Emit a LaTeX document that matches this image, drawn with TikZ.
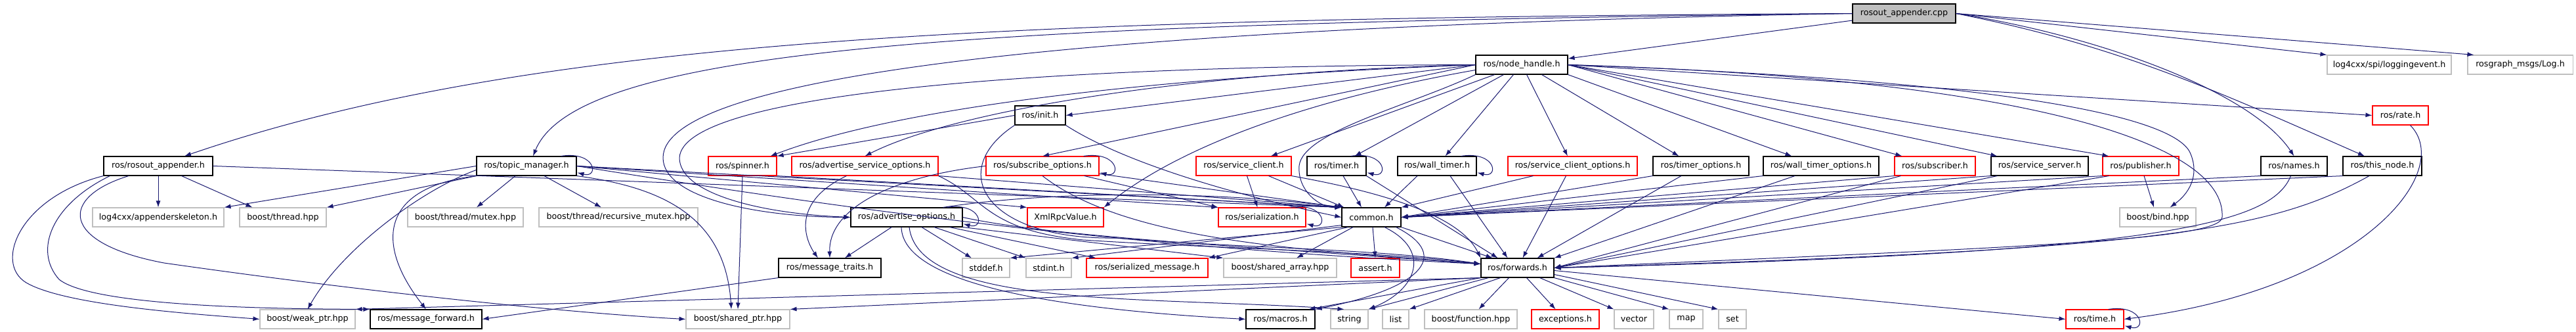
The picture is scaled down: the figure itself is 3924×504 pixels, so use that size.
\documentclass[tikz,border=0pt]{standalone}
\usepackage{fontspec}
\setmainfont{DejaVu Sans}
\usetikzlibrary{arrows.meta}
\definecolor{navyc}{HTML}{191970}
\definecolor{lgray}{HTML}{BFBFBF}
\definecolor{fillg}{HTML}{BFBFBF}
\tikzset{
 nbox/.style={draw, rectangle, inner sep=0pt, minimum height=29pt, line width=1.1pt, font=\fontsize{12.7}{15}\selectfont, text=black},
 blk/.style={nbox, draw=black},
 redb/.style={nbox, draw=red},
 gryb/.style={nbox, draw=lgray},
 dep/.style={draw=navyc, line width=1pt, -{Latex[length=10pt,width=7pt]}},
}
\newcommand{\myloop}[1]{\draw[dep] ([xshift=-24pt]#1.north east) .. controls ([xshift=30pt,yshift=8pt]#1.north east) and ([xshift=34pt,yshift=-4pt]#1.south east) .. ([xshift=1pt,yshift=5pt]#1.south east);}
\begin{document}
\begin{tikzpicture}[x=1pt,y=-1pt]
\useasboundingbox (0,0) rectangle (3924,504);
% row A
\node[blk,fill=fillg,minimum width=157pt] (cpp) at (2900.5,20.5) {rosout\_appender.cpp};
% row B
\node[blk,minimum width=140pt] (nh) at (2318,98.5) {ros/node\_handle.h};
\node[gryb,minimum width=189pt] (logev) at (3639.5,98.5) {log4cxx/spi/loggingevent.h};
\node[gryb,minimum width=160pt] (log) at (3839,98.5) {rosgraph\_msgs/Log.h};
% row C
\node[blk,minimum width=77pt] (init) at (1584.5,175.5) {ros/init.h};
\node[redb,minimum width=85pt] (rate) at (3656.5,175.5) {ros/rate.h};
% row D
\node[blk,minimum width=166pt] (roa) at (241,252.5) {ros/rosout\_appender.h};
\node[blk,minimum width=152pt] (tm) at (802,252.5) {ros/topic\_manager.h};
\node[redb,minimum width=104pt] (spin) at (1131,252.5) {ros/spinner.h};
\node[redb,minimum width=223pt] (aso) at (1317.5,252.5) {ros/advertise\_service\_options.h};
\node[redb,minimum width=172pt] (so) at (1588,252.5) {ros/subscribe\_options.h};
\node[redb,minimum width=145pt] (sc) at (1894.5,252.5) {ros/service\_client.h};
\node[blk,minimum width=90pt] (timer) at (2036,252.5) {ros/timer.h};
\node[blk,minimum width=120pt] (wt) at (2189,252.5) {ros/wall\_timer.h};
\node[redb,minimum width=197pt] (sco) at (2395.5,252.5) {ros/service\_client\_options.h};
\node[blk,minimum width=146pt] (tmo) at (2591,252.5) {ros/timer\_options.h};
\node[blk,minimum width=176pt] (wto) at (2774,252.5) {ros/wall\_timer\_options.h};
\node[redb,minimum width=123pt] (sub) at (2947.5,252.5) {ros/subscriber.h};
\node[blk,minimum width=148pt] (ss) at (3107,252.5) {ros/service\_server.h};
\node[redb,minimum width=116pt] (pub) at (3261,252.5) {ros/publisher.h};
\node[blk,minimum width=101pt] (names) at (3494.5,252.5) {ros/names.h};
\node[blk,minimum width=120pt] (tn) at (3629,252.5) {ros/this\_node.h};
% row E
\node[gryb,minimum width=200pt] (ask) at (241,330.5) {log4cxx/appenderskeleton.h};
\node[gryb,minimum width=132pt] (thr) at (431,330.5) {boost/thread.hpp};
\node[gryb,minimum width=176pt] (mtx) at (709,330.5) {boost/thread/mutex.hpp};
\node[gryb,minimum width=242pt] (rmtx) at (942,330.5) {boost/thread/recursive\_mutex.hpp};
\node[blk,minimum width=170pt] (ao) at (1381,330.5) {ros/advertise\_options.h};
\node[redb,minimum width=116pt] (xml) at (1623,330.5) {XmlRpcValue.h};
\node[redb,minimum width=133pt] (ser) at (1922.5,330.5) {ros/serialization.h};
\node[blk,minimum width=90pt] (common) at (2089,330.5) {common.h};
\node[gryb,minimum width=116pt] (bind) at (3287,330.5) {boost/bind.hpp};
% row F
\node[blk,minimum width=156pt] (mt) at (1264,407.5) {ros/message\_traits.h};
\node[gryb,minimum width=72pt] (stddef) at (1502,407.5) {stddef.h};
\node[gryb,minimum width=69pt] (stdint) at (1597.5,407.5) {stdint.h};
\node[redb,minimum width=185pt] (smsg) at (1747.5,407.5) {ros/serialized\_message.h};
\node[gryb,minimum width=172pt] (sarr) at (1950,407.5) {boost/shared\_array.hpp};
\node[redb,minimum width=74pt] (assert) at (2095,407.5) {assert.h};
\node[blk,minimum width=111pt] (fwd) at (2311.5,407.5) {ros/forwards.h};
% row G
\node[gryb,minimum width=145pt] (wptr) at (468.5,485.5) {boost/weak\_ptr.hpp};
\node[blk,minimum width=170pt] (mfwd) at (649,485.5) {ros/message\_forward.h};
\node[gryb,minimum width=158pt] (sptr) at (1124,485.5) {boost/shared\_ptr.hpp};
\node[blk,minimum width=105pt] (macros) at (1950.5,485.5) {ros/macros.h};
\node[gryb,minimum width=57pt] (string) at (2055.5,485.5) {string};
\node[gryb,minimum width=40pt] (list) at (2126,485.5) {list};
\node[gryb,minimum width=141pt] (func) at (2240.5,485.5) {boost/function.hpp};
\node[redb,minimum width=103pt] (exc) at (2384.5,485.5) {exceptions.h};
\node[gryb,minimum width=60pt] (vector) at (2489,485.5) {vector};
\node[gryb,minimum width=51pt] (map) at (2568.5,485.5) {map};
\node[gryb,minimum width=42pt] (set) at (2639,485.5) {set};
\node[redb,minimum width=88pt] (rtime) at (3191,485.5) {ros/time.h};

% ---- rosout_appender.cpp
\draw[dep] (cpp.west) .. controls (1500,28) and (800,60) .. ([xshift=40pt]roa.north);
\draw[dep] (cpp.west) .. controls (1500,36) and (880,70) .. ([xshift=10pt]tm.north);
\draw[dep] (cpp.west) .. controls (1600,42) and (1010,120) .. (1010,240) .. controls (1010,300) and (1150,330) .. (ao.west);
\draw[dep] (cpp) -- (nh);
\draw[dep] (cpp.east) -- (logev.north west);
\draw[dep] (cpp.east) -- ([xshift=10pt]log.north west);
\draw[dep] (cpp.east) .. controls (3200,55) and (3430,140) .. (names.north);
\draw[dep] (cpp.east) .. controls (3230,70) and (3380,140) .. ([xshift=-27pt]tn.north);

% ---- node_handle.h
\draw[dep] (nh.west) -- (init.east);
\draw[dep] (nh.west) .. controls (1700,120) and (1350,170) .. ([xshift=-10pt]spin.north east);
\draw[dep] (nh.west) .. controls (1800,110) and (1450,170) .. (aso.north);
\draw[dep] (nh.west) -- (so.north);
\draw[dep] (nh.west) .. controls (1600,100) and (1040,140) .. (1035,240) .. controls (1035,295) and (1160,325) .. (ao.west);
\draw[dep] ([yshift=-8pt]nh.west) .. controls (2000,150) and (1800,220) .. (xml.north east);
\draw[dep] (nh.south west) .. controls (2150,160) and (1985,200) .. (1979,252) .. controls (1976,290) and (2010,316) .. (common.north west);
\draw[dep] (nh) -- (sc);
\draw[dep] (nh) -- (timer);
\draw[dep] (nh) -- (wt);
\draw[dep] (nh) -- (sco);
\draw[dep] ([xshift=-40pt]nh.south east) -- ([xshift=40pt]tmo.north west);
\draw[dep] (nh.south east) -- ([xshift=44pt]wto.north west);
\draw[dep] (nh.east) -- ([xshift=12pt]sub.north west);
\draw[dep] (nh.east) -- ([xshift=10pt]ss.north west);
\draw[dep] (nh.east) -- ([xshift=10pt]pub.north west);
\draw[dep] (nh.east) -- (rate.west);
\draw[dep] (nh.east) .. controls (3000,120) and (3300,170) .. (3335,230) .. controls (3350,260) and (3340,290) .. ([xshift=-40pt]bind.north east);
\draw[dep] (nh.east) .. controls (3100,120) and (3390,220) .. (3385,330) .. controls (3385,365) and (3100,375) .. (fwd.east);

% ---- init.h
\draw[dep] (init.west) -- (spin.north east);
\draw[dep] (init.south east) .. controls (1700,240) and (1850,290) .. (common.west);
\draw[dep] (init.south west) .. controls (1440,260) and (1500,365) .. (1700,362) .. controls (1900,378) and (2100,378) .. ([yshift=6pt]fwd.west);

% ---- rosout_appender.h
\draw[dep] (roa) -- (ask);
\draw[dep] ([xshift=-48pt]roa.south east) -- ([xshift=20pt]thr.north west);
\draw[dep] (roa.east) -- (common.north west);
\draw[dep] (roa.south west) .. controls (30,300) and (-10,400) .. (40,430) .. controls (100,465) and (300,478) .. (wptr.west);
\draw[dep] ([xshift=10pt]roa.south west) .. controls (80,310) and (50,380) .. (90,425) .. controls (140,465) and (400,470) .. (mfwd.north west);
\draw[dep] ([xshift=-45pt]roa.south) .. controls (90,300) and (90,370) .. (250,400) .. controls (600,450) and (900,478) .. (sptr.west);

% ---- topic_manager.h
\myloop{tm}
\draw[dep] (tm.west) -- (ask.north east);
\draw[dep] (tm.south west) -- (thr.north east);
\draw[dep] ([yshift=-6pt]tm.west) .. controls (640,290) and (520,380) .. (wptr.north);
\draw[dep] (tm.south west) .. controls (580,285) and (570,370) .. (mfwd.north);
\draw[dep] ([xshift=-17pt]tm.south) -- ([xshift=17pt]mtx.north);
\draw[dep] ([xshift=27pt]tm.south) -- ([xshift=-26pt]rmtx.north);
\draw[dep] (tm.south east) .. controls (1010,285) and (1105,330) .. ([xshift=-10pt]sptr.north);
\draw[dep] (tm.east) -- (xml.north west);
\draw[dep] (tm.east) -- (ser.north west);
\draw[dep] (tm.east) -- (common.north west);
\draw[dep] (tm.east) .. controls (1300,320) and (1700,375) .. ([yshift=6pt]fwd.west);

% ---- spinner.h
\draw[dep] (spin.south east) -- (common.north west);
\draw[dep] (spin.south) -- (sptr.north);

% ---- advertise_service_options.h
\draw[dep] ([xshift=-28pt]aso.south) .. controls (1200,310) and (1230,370) .. ([xshift=-18pt]mt.north);
\draw[dep] (aso.south east) -- (common.north west);
\draw[dep] (aso.south east) .. controls (1500,300) and (1500,350) .. (1650,365) .. controls (1850,378) and (2100,382) .. ([yshift=6pt]fwd.west);

% ---- subscribe_options.h
\myloop{so}
\draw[dep] (so.west) .. controls (1350,270) and (1262,320) .. (mt.north);
\draw[dep] (so) -- (ser.north west);
\draw[dep] (so) -- (common.north west);
\draw[dep] (so.south) .. controls (1720,370) and (2000,380) .. ([yshift=6pt]fwd.west);

% ---- advertise_options.h
\myloop{ao}
\draw[dep] (ao) -- (mt);
\draw[dep] ([xshift=-8pt]ao.south) .. controls (1375,430) and (1600,470) .. (macros.west);
\draw[dep] ([xshift=4pt]ao.south) .. controls (1400,470) and (1750,450) .. ([xshift=-8pt]string.north);
\draw[dep] ([xshift=23pt]ao.south) -- ([xshift=-22pt]stddef.north);
\draw[dep] ([xshift=42pt]ao.south) -- (stdint.north west);
\draw[dep] ([xshift=-20pt]ao.south east) -- ([xshift=15pt]smsg.north west);
\draw[dep] (ao.south east) -- (sarr.north west);
\draw[dep] ([xshift=-30pt]ao.north east) .. controls (1600,290) and (1850,290) .. (common.north west);
\draw[dep] (ao.east) .. controls (1600,360) and (1900,375) .. ([yshift=6pt]fwd.west);

% ---- serialization.h
\myloop{ser}

% ---- service_client.h
\draw[dep] (sc) -- ([xshift=-7pt]ser.north);
\draw[dep] ([xshift=38pt]sc.south) -- ([xshift=4pt]common.north west);
\draw[dep] (sc.south east) .. controls (2150,300) and (2230,340) .. (fwd.north west);

% ---- timer.h / wall_timer.h
\myloop{timer}
\draw[dep] ([xshift=10pt]timer.south) -- ([xshift=-15pt]common.north);
\draw[dep] (timer.south east) -- ([xshift=-30pt]fwd.north);
\myloop{wt}
\draw[dep] ([xshift=-30pt]wt.south) -- ([xshift=20pt]common.north);
\draw[dep] ([xshift=20pt]wt.south) -- ([xshift=-15pt]fwd.north);

% ---- option headers, subscriber, server, publisher
\draw[dep] ([xshift=-60pt]sco.south) -- (common.north east);
\draw[dep] ([xshift=-10pt]sco.south) -- ([xshift=8pt]fwd.north);
\draw[dep] (tmo.south west) -- (common.east);
\draw[dep] ([xshift=-30pt]tmo.south) -- ([xshift=30pt]fwd.north);
\draw[dep] (wto.south west) -- (common.east);
\draw[dep] ([xshift=-40pt]wto.south) -- (fwd.north east);
\draw[dep] (sub.south west) -- (common.east);
\draw[dep] ([xshift=10pt]sub.south west) -- (fwd.east);
\draw[dep] (ss.south west) -- (common.east);
\draw[dep] ([xshift=10pt]ss.south west) -- (fwd.east);
\draw[dep] (pub.south west) -- (common.east);
\draw[dep] ([xshift=10pt]pub.south west) -- (fwd.east);
\draw[dep] ([xshift=5pt]pub.south) -- ([xshift=-6pt]bind.north);

% ---- names.h / this_node.h
\draw[dep] (names.south west) -- (common.east);
\draw[dep] ([xshift=-5pt]names.south) .. controls (3460,340) and (3300,385) .. (fwd.east);
\draw[dep] (tn.south west) -- (common.east);
\draw[dep] ([xshift=-20pt]tn.south) .. controls (3460,350) and (3300,380) .. (fwd.east);

% ---- rate.h / time.h
\draw[dep] ([xshift=15pt]rate.south) .. controls (3740,260) and (3600,440) .. (rtime.east);
\myloop{rtime}

% ---- common.h
\draw[dep] (common.south west) -- (stddef.north east);
\draw[dep] ([yshift=3pt]common.south west) -- (stdint.north east);
\draw[dep] ([xshift=10pt]common.south west) -- (smsg.north east);
\draw[dep] ([xshift=-28pt]common.south) -- ([xshift=25pt]sarr.north);
\draw[dep] ([xshift=2pt]common.south) -- (assert.north);
\draw[dep] (common.south east) -- ([xshift=18pt]fwd.north west);
\draw[dep] ([xshift=20pt]common.south) .. controls (2180,380) and (2160,440) .. (string.north east);
\draw[dep] ([xshift=-8pt]common.south east) .. controls (2215,390) and (2160,440) .. (macros.north east);

% ---- message_traits.h
\draw[dep] (mt.south west) -- (mfwd.east);

% ---- forwards.h
\draw[dep] (fwd.south west) -- (wptr.north east);
\draw[dep] (fwd.south west) -- (sptr.north east);
\draw[dep] (fwd.south west) -- ([xshift=-10pt]macros.north east);
\draw[dep] ([xshift=12pt]fwd.south west) -- (string.north east);
\draw[dep] ([xshift=30pt]fwd.south west) -- (list.north east);
\draw[dep] ([xshift=-13pt]fwd.south) -- ([xshift=12pt]func.north);
\draw[dep] ([xshift=14pt]fwd.south) -- ([xshift=-15pt]exc.north);
\draw[dep] ([xshift=-22pt]fwd.south east) -- (vector.north west);
\draw[dep] (fwd.south east) -- (map.north west);
\draw[dep] ([yshift=-10pt]fwd.east) -- (set.north west);
\draw[dep] ([yshift=-4pt]fwd.east) -- (rtime.west);
\end{tikzpicture}
\end{document}
